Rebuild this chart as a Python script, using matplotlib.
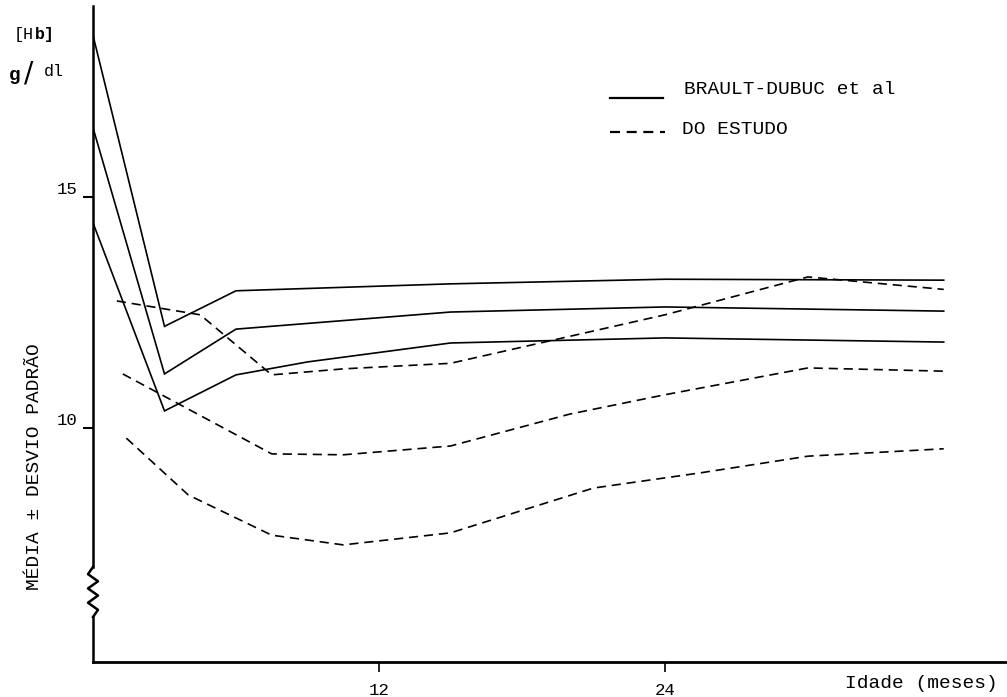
import matplotlib
matplotlib.use("Agg")
import matplotlib.pyplot as plt

# --- Data ---
# Brault-Dubuc et al: mean + SD, mean, mean - SD
bd_months = [0, 3, 6, 15, 24, 35.7]
bd_upper = [18.5, 12.2, 12.97, 13.12, 13.22, 13.2]
bd_mean = [16.5, 11.17, 12.14, 12.51, 12.62, 12.53]
bd_lower_months = [0, 3, 6, 9, 15, 24, 35.7]
bd_lower = [14.44, 10.37, 11.15, 11.43, 11.84, 11.95, 11.86]

# Do estudo: mean + SD, mean, mean - SD
st_upper_months = [1, 4.5, 7.5, 10.5, 15, 21, 24, 30, 35.7]
st_upper = [12.75, 12.45, 11.15, 11.28, 11.4, 12.1, 12.45, 13.27, 13.0]
st_mean_months = [1.25, 7.5, 10.5, 15, 20, 24, 30, 35.7]
st_mean = [11.17, 9.44, 9.42, 9.61, 10.3, 10.72, 11.3, 11.23]
st_lower_months = [1.4, 4, 7.5, 10.5, 15, 21, 25.5, 30, 35.7]
st_lower = [9.78, 8.55, 7.68, 7.47, 7.73, 8.7, 9.03, 9.39, 9.55]

x_ticks = [12, 24]
y_ticks = [10, 15]

legend_solid = "BRAULT-DUBUC et al"
legend_dashed = "DO ESTUDO"

MONO = "Liberation Mono"

fig = plt.figure(figsize=(10.07, 6.97), dpi=100)
ax = fig.add_axes([93 / 1007, 35 / 697, 914 / 1007, 656 / 697])
ax.set_xlim(0, 914 / 23.83)
ax.set_ylim(10 - (663 - 429) / 46.2, 10 + (429 - 7) / 46.2)

lw = 1.2
dash = (5.5, 3.5)
for m, v in [(bd_months, bd_upper), (bd_months, bd_mean), (bd_lower_months, bd_lower)]:
    ax.plot(m, v, color="black", lw=lw, solid_joinstyle="miter")
for m, v in [(st_upper_months, st_upper), (st_mean_months, st_mean), (st_lower_months, st_lower)]:
    ax.plot(m, v, color="black", lw=lw, dashes=dash)

# spines
for s in ["top", "right", "left"]:
    ax.spines[s].set_visible(False)
ax.spines["bottom"].set_linewidth(2.0)

# left axis drawn manually with a break (zigzag)
ytr = ax.get_yaxis_transform()
ymin, ymax = ax.get_ylim()
zz_top = 10 - (568 - 429) / 46.2
zz_bot = 10 - (618 - 429) / 46.2
ax.plot([0, 0], [zz_top, ymax], color="black", lw=1.8, transform=ytr, clip_on=False)
ax.plot([0, 0], [ymin, zz_bot], color="black", lw=1.8, transform=ytr, clip_on=False)
n = 7
amp = 5 / 914
zx = [0] + [(-amp if i % 2 else amp) for i in range(1, n)] + [0]
zy = [zz_top + (zz_bot - zz_top) * i / n for i in range(n + 1)]
ax.plot(zx, zy, color="black", lw=1.8, transform=ytr, clip_on=False)

ax.set_xticks(x_ticks)
ax.set_xticklabels([str(t) for t in x_ticks], fontfamily=MONO, fontsize=12.5)
ax.set_yticks(y_ticks)
ax.set_yticklabels([str(t) for t in y_ticks], fontfamily=MONO, fontsize=12.5)
ax.tick_params(axis="x", direction="out", length=7, width=1.2, pad=8)
ax.tick_params(axis="y", direction="out", length=7, width=1.5, pad=4)
for lab in ax.get_yticklabels():
    lab.set_va("bottom")

# x-axis title
fig.text(998 / 1007, 1 - 683 / 697, "Idade (meses)", fontfamily=MONO, fontsize=14,
         ha="right", va="center")

# y-axis title
fig.text(35 / 1007, 1 - 467 / 697, "MÉDIA ± DESVIO PADRÃO", fontfamily=MONO, fontsize=14,
         rotation=90, ha="center", va="center")

# unit label
fig.text(14 / 1007, 1 - 35 / 697, "[H", fontfamily=MONO, fontsize=12, ha="left", va="center")
fig.text(35 / 1007, 1 - 35 / 697, "b]", fontfamily=MONO, fontsize=12, fontweight="bold",
         ha="left", va="center")
fig.text(9 / 1007, 1 - 75 / 697, "g", fontfamily=MONO, fontsize=14, fontweight="bold",
         ha="left", va="center")
fig.text(24 / 1007, 1 - 73 / 697, "/", fontfamily="DejaVu Sans", fontsize=20,
         ha="left", va="center")
fig.text(44 / 1007, 1 - 72 / 697, "dl", fontfamily=MONO, fontsize=12, ha="left", va="center")

# legend (hand-drawn style, placed in figure coordinates)
fig.lines.append(plt.Line2D([610 / 1007, 663 / 1007], [1 - 98 / 697, 1 - 98 / 697],
                            transform=fig.transFigure, color="black", lw=1.6))
fig.lines.append(plt.Line2D([610 / 1007, 665 / 1007], [1 - 132 / 697, 1 - 132 / 697],
                            transform=fig.transFigure, color="black", lw=1.6,
                            dashes=(4.5, 3)))
fig.text(684 / 1007, 1 - 89 / 697, legend_solid, fontfamily=MONO, fontsize=14,
         ha="left", va="center")
fig.text(682 / 1007, 1 - 129 / 697, legend_dashed, fontfamily=MONO, fontsize=14,
         ha="left", va="center")

fig.savefig("out.png", dpi=100, facecolor="white")
